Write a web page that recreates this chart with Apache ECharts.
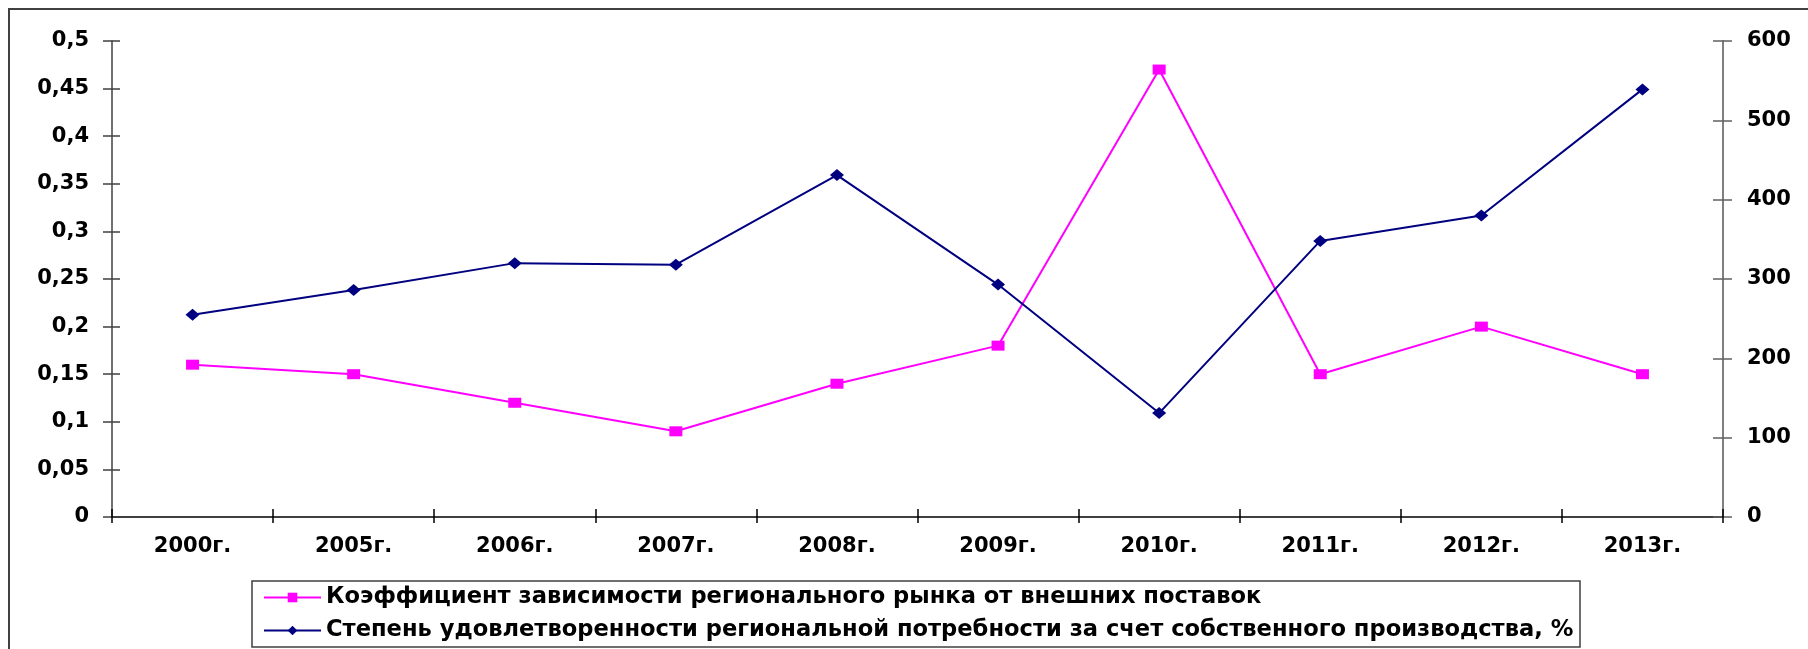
<!DOCTYPE html>
<html>
<head>
<meta charset="utf-8">
<script src="https://cdn.jsdelivr.net/npm/echarts@6/dist/echarts.min.js"></script>
<style>
html,body{margin:0;padding:0;background:#fff;}
#chart{width:1808px;height:649px;}
</style>
</head>
<body>
<div id="chart"></div>
<script>
const categories = ['2000г.','2005г.','2006г.','2007г.','2008г.','2009г.','2010г.','2011г.','2012г.','2013г.'];
const seriesNames = [
  'Коэффициент зависимости регионального рынка от внешних поставок',
  'Степень удовлетворенности региональной потребности за счет собственного производства, %'
];
const dependencyCoef = [0.16, 0.15, 0.12, 0.09, 0.14, 0.18, 0.47, 0.15, 0.20, 0.15];
const satisfactionPct = [255, 286, 320, 318, 431, 293, 131, 348, 380, 539];
const leftTickLabels = ['0','0,05','0,1','0,15','0,2','0,25','0,3','0,35','0,4','0,45','0,5'];
const rightTickLabels = ['0','100','200','300','400','500','600'];

const FONT = 'DejaVu Sans';
const chart = echarts.init(document.getElementById('chart'), null, {renderer:'canvas'});

const gridRect = {left:112, right:85, top:41, bottom:132, containLabel:false};
const labelStyle = {color:'#000', fontFamily:FONT, fontWeight:'bold', fontSize:21};

function leftFmt(v){ const i = Math.round(v/0.05); return leftTickLabels[i] !== undefined ? leftTickLabels[i] : String(v); }
function rightFmt(v){ const i = Math.round(v/100); return rightTickLabels[i] !== undefined ? rightTickLabels[i] : String(v); }

chart.setOption({
  animation:false,
  backgroundColor:'#fff',
  grid:[Object.assign({}, gridRect), Object.assign({}, gridRect)],
  graphic:[
    {type:'rect', shape:{x:9, y:9, width:1900, height:800}, style:{fill:'none', stroke:'#404040', lineWidth:2}, silent:true, z:-10},
    {type:'rect', shape:{x:252, y:581, width:1328, height:66}, style:{fill:'#fff', stroke:'#404040', lineWidth:1.5}, silent:true, z:-5}
  ],
  legend:{
    orient:'vertical', left:263, top:586,
    itemWidth:57, itemHeight:12, itemGap:10,
    padding:0,
    textStyle:{color:'#000', fontFamily:FONT, fontWeight:'bold', fontSize:22.6, lineHeight:22},
    data:seriesNames
  },
  xAxis:[
    {type:'category', gridIndex:0, data:categories, boundaryGap:true, position:'bottom',
     axisLine:{lineStyle:{color:'#000', width:1.5}},
     axisTick:{show:true, inside:false, length:6, lineStyle:{color:'#000', width:1.5}},
     axisLabel:Object.assign({margin:19}, labelStyle), splitLine:{show:false}},
    {type:'category', gridIndex:1, data:categories, boundaryGap:true, position:'bottom',
     axisLine:{show:false}, axisTick:{show:true, inside:true, length:8, lineStyle:{color:'#000', width:1.5}},
     axisLabel:{show:false}, splitLine:{show:false}}
  ],
  yAxis:[
    {type:'value', gridIndex:0, position:'left', min:0, max:0.5, interval:0.05,
     axisLine:{show:true, lineStyle:{color:'#404040', width:1.5}},
     axisTick:{show:true, inside:false, length:9, lineStyle:{color:'#404040', width:1.5}},
     axisLabel:Object.assign({margin:23, formatter:leftFmt}, labelStyle), splitLine:{show:false}},
    {type:'value', gridIndex:0, position:'right', min:0, max:600, interval:100,
     axisLine:{show:true, lineStyle:{color:'#808080', width:2}},
     axisTick:{show:true, inside:false, length:9, lineStyle:{color:'#606060', width:1.5}},
     axisLabel:Object.assign({margin:24, formatter:rightFmt}, labelStyle), splitLine:{show:false}},
    {type:'value', gridIndex:1, position:'left', min:0, max:0.5, interval:0.05,
     axisLine:{show:false}, axisTick:{show:true, inside:true, length:8, lineStyle:{color:'#404040', width:1.5}},
     axisLabel:{show:false}, splitLine:{show:false}},
    {type:'value', gridIndex:1, position:'right', min:0, max:600, interval:100,
     axisLine:{show:false}, axisTick:{show:true, inside:true, length:10, lineStyle:{color:'#606060', width:1.5}},
     axisLabel:{show:false}, splitLine:{show:false}}
  ],
  series:[
    {name:seriesNames[0], type:'line', xAxisIndex:0, yAxisIndex:0, data:dependencyCoef,
     symbol:'rect', symbolSize:[13,10], showAllSymbol:true,
     lineStyle:{color:'#FF00FF', width:2}, itemStyle:{color:'#FF00FF'}, z:3},
    {name:seriesNames[1], type:'line', xAxisIndex:0, yAxisIndex:1, data:satisfactionPct,
     symbol:'diamond', symbolSize:[14,12], showAllSymbol:true,
     lineStyle:{color:'#000080', width:2}, itemStyle:{color:'#000080'}, z:4}
  ]
});
</script>
</body>
</html>
